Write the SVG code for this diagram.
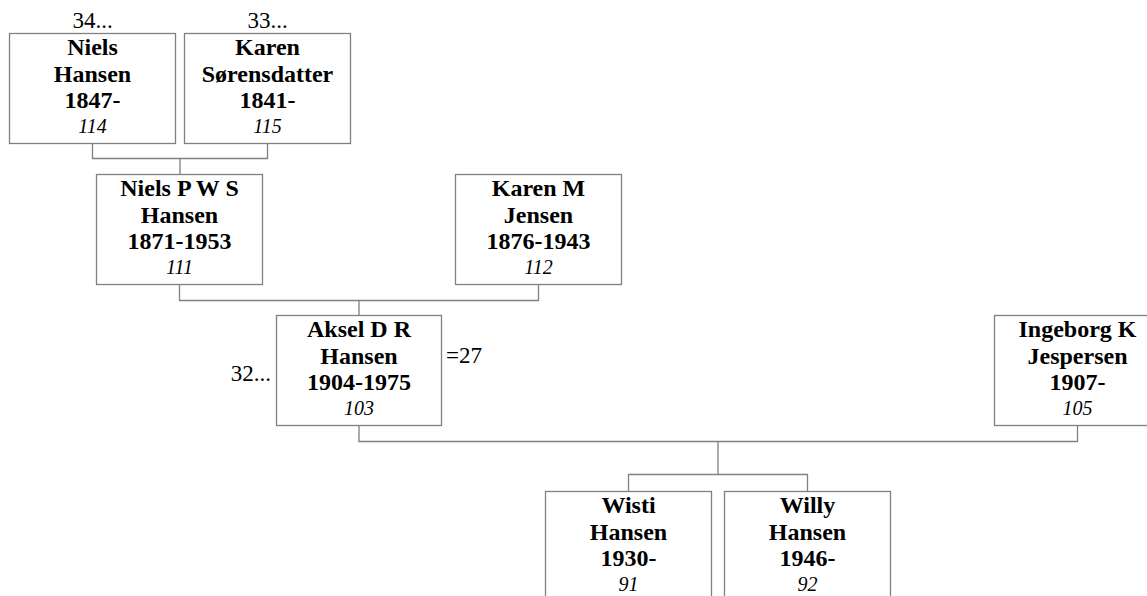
<svg xmlns="http://www.w3.org/2000/svg" width="1147" height="596" viewBox="0 0 1147 596">
<style>
.box{fill:#fff;stroke:#808080;stroke-width:1.3}
.nm{font-family:"Liberation Serif","Times New Roman",serif;font-weight:bold;font-size:24px;text-anchor:middle;fill:#000}
.id{font-family:"Liberation Serif","Times New Roman",serif;font-style:italic;font-size:20px;text-anchor:middle;fill:#000}
.ex{font-family:"Liberation Serif","Times New Roman",serif;font-size:23px;fill:#000}
.ln{fill:none;stroke:#808080;stroke-width:1.3}
</style>
<rect width="1147" height="596" fill="#fff"/>
<g id="connectors">
<path class="ln" d="M92.5 143.5V158.5H267.5V143.5M180 158.5V174.5"/>
<path class="ln" d="M179.5 284.5V300.5H538.5V284.5M359 300.5V315.5"/>
<path class="ln" d="M359 425.5V441.5H1077.5V425.5M718 441.5V474.5M628.5 491.5V474.5H807.5V491.5"/>
</g>
<g id="n114">
<text class="ex" x="92.5" y="28" text-anchor="middle">34...</text>
<rect class="box" x="9.5" y="33.5" width="166" height="110"/>
<text class="nm" x="92.5" y="55">Niels</text>
<text class="nm" x="92.5" y="81.5">Hansen</text>
<text class="nm" x="92.5" y="108">1847-</text>
<text class="id" x="92.5" y="133">114</text>
</g>
<g id="n115">
<text class="ex" x="267.5" y="28" text-anchor="middle">33...</text>
<rect class="box" x="184.5" y="33.5" width="166" height="110"/>
<text class="nm" x="267.5" y="55">Karen</text>
<text class="nm" x="267.5" y="81.5">Sørensdatter</text>
<text class="nm" x="267.5" y="108">1841-</text>
<text class="id" x="267.5" y="133">115</text>
</g>
<g id="n111">
<rect class="box" x="96.5" y="174.5" width="166" height="110"/>
<text class="nm" x="179.5" y="196">Niels P W S</text>
<text class="nm" x="179.5" y="222.5">Hansen</text>
<text class="nm" x="179.5" y="249">1871-1953</text>
<text class="id" x="179.5" y="274">111</text>
</g>
<g id="n112">
<rect class="box" x="455.5" y="174.5" width="166" height="110"/>
<text class="nm" x="538.5" y="196">Karen M</text>
<text class="nm" x="538.5" y="222.5">Jensen</text>
<text class="nm" x="538.5" y="249">1876-1943</text>
<text class="id" x="538.5" y="274">112</text>
</g>
<g id="n103">
<text class="ex" x="271" y="381" text-anchor="end">32...</text>
<rect class="box" x="276.5" y="315.5" width="165" height="110"/>
<text class="nm" x="359" y="337">Aksel D R</text>
<text class="nm" x="359" y="363.5">Hansen</text>
<text class="nm" x="359" y="390">1904-1975</text>
<text class="id" x="359" y="415">103</text>
<text class="ex" x="446" y="363">=27</text>
</g>
<g id="n105">
<rect class="box" x="994.5" y="315.5" width="166" height="110"/>
<text class="nm" x="1077.5" y="337">Ingeborg K</text>
<text class="nm" x="1077.5" y="363.5">Jespersen</text>
<text class="nm" x="1077.5" y="390">1907-</text>
<text class="id" x="1077.5" y="415">105</text>
</g>
<g id="n91">
<rect class="box" x="545.5" y="491.5" width="166" height="110"/>
<text class="nm" x="628.5" y="513">Wisti</text>
<text class="nm" x="628.5" y="539.5">Hansen</text>
<text class="nm" x="628.5" y="566">1930-</text>
<text class="id" x="628.5" y="591">91</text>
</g>
<g id="n92">
<rect class="box" x="724.5" y="491.5" width="166" height="110"/>
<text class="nm" x="807.5" y="513">Willy</text>
<text class="nm" x="807.5" y="539.5">Hansen</text>
<text class="nm" x="807.5" y="566">1946-</text>
<text class="id" x="807.5" y="591">92</text>
</g>
</svg>
